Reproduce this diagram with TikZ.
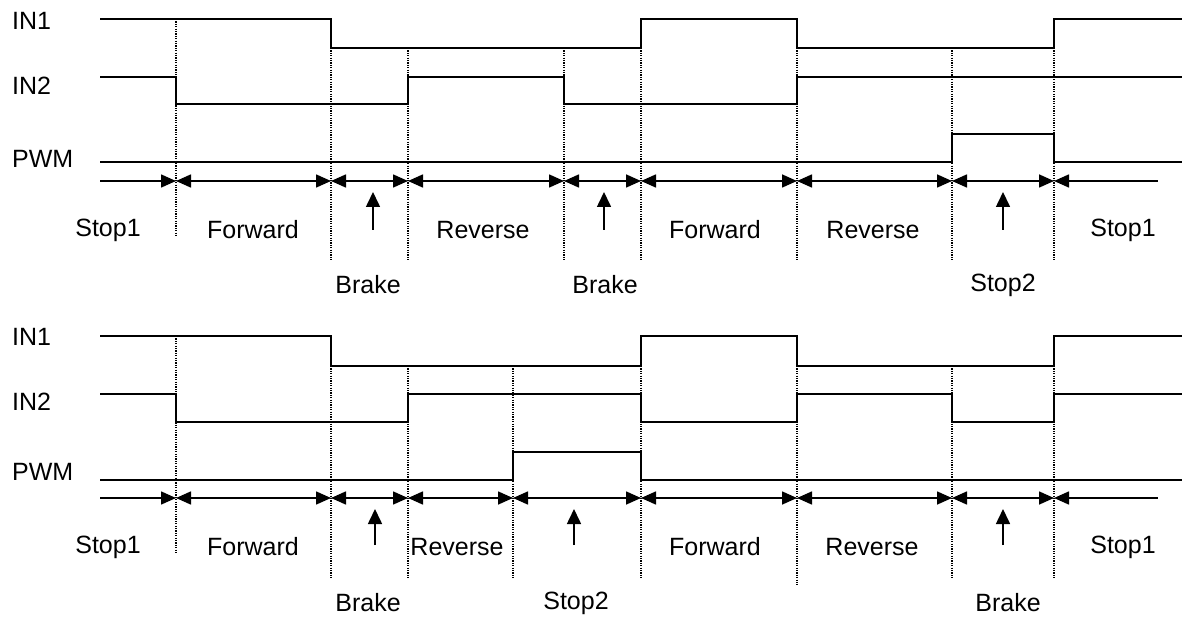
\documentclass[tikz,border=0pt]{standalone}
\usepackage{fontspec}
\setmainfont{Liberation Sans}
\usetikzlibrary{arrows.meta}
\begin{document}
\begin{tikzpicture}[x=1pt,y=-1pt,
  sig/.style={line width=1.9pt, line join=miter},
  gridline/.style={line width=1.3pt, dash pattern=on 1.2pt off 1.2pt},
  tri/.tip={Triangle[length=15pt,width=13pt]},
  span/.style={line width=1.6pt, tri-tri},
  spanR/.style={line width=1.6pt, -tri},
  spanL/.style={line width=1.6pt, tri-},
  up/.style={line width=1.6pt, -{Triangle[length=15pt,width=14pt]}},
  lbl/.style={font=\fontsize{25}{30}\selectfont, inner sep=0pt}]
\useasboundingbox (0,0) rectangle (1182,617);

% ================= TOP PANEL =================
\node[lbl, anchor=west] (t-in1) at (12,21) {IN1};
\node[lbl, anchor=west] (t-in2) at (12,86) {IN2};
\node[lbl, anchor=west] (t-pwm) at (12,159) {PWM};

% dotted guide lines
\draw[gridline] (176,19) -- (176,237);
\foreach \x in {331,408,564,641,797,952,1054}
  \draw[gridline] (\x,48) -- (\x,260);

% signals
\draw[sig] (100,19) -- (331,19) -- (331,48) -- (641,48) -- (641,19) -- (797,19) -- (797,48) -- (1054,48) -- (1054,19) -- (1182,19);
\draw[sig] (100,77) -- (176,77) -- (176,104) -- (408,104) -- (408,77) -- (564,77) -- (564,104) -- (797,104) -- (797,77) -- (1182,77);
\draw[sig] (100,162) -- (952,162) -- (952,134) -- (1054,134) -- (1054,162) -- (1182,162);

% interval arrows
\foreach \x [count=\i] in {100,176,331,408,564,641,797,952,1054,1158}
  \coordinate (ta\i) at (\x,181);
\draw[spanR] (ta1) -- (ta2);
\foreach \i/\j in {2/3,3/4,4/5,5/6,6/7,7/8,8/9}
  \draw[span] (ta\i) -- (ta\j);
\draw[spanL] (ta9) -- (ta10);

% state labels
\node[lbl] (t-s1)  at (108,230) {Stop1};
\node[lbl] (t-f1)  at (253,230) {Forward};
\node[lbl] (t-r1)  at (483,230) {Reverse};
\node[lbl] (t-f2)  at (715,230) {Forward};
\node[lbl] (t-r2)  at (873,230) {Reverse};
\node[lbl] (t-s1b) at (1123,230) {Stop1};
\node[lbl] (t-b1)  at (368,285) {Brake};
\node[lbl] (t-b2)  at (605,285) {Brake};
\node[lbl] (t-s2)  at (1003,285) {Stop2};
\coordinate (tu1a) at (373,230); \coordinate (tu1b) at (373,192);
\coordinate (tu2a) at (604,230); \coordinate (tu2b) at (604,192);
\coordinate (tu3a) at (1003,230); \coordinate (tu3b) at (1003,192);
\draw[up] (tu1a) -- (tu1b);
\draw[up] (tu2a) -- (tu2b);
\draw[up] (tu3a) -- (tu3b);

% ================= BOTTOM PANEL =================
\node[lbl, anchor=west] (b-in1) at (12,337) {IN1};
\node[lbl, anchor=west] (b-in2) at (12,402) {IN2};
\node[lbl, anchor=west] (b-pwm) at (12,472) {PWM};

\draw[gridline] (176,336) -- (176,553);
\foreach \x in {331,408,513,641,952,1054}
  \draw[gridline] (\x,366) -- (\x,578);
\draw[gridline] (797,366) -- (797,585);

\draw[sig] (100,336) -- (331,336) -- (331,366) -- (641,366) -- (641,336) -- (797,336) -- (797,366) -- (1054,366) -- (1054,336) -- (1182,336);
\draw[sig] (100,394) -- (176,394) -- (176,422) -- (408,422) -- (408,394) -- (641,394) -- (641,422) -- (797,422) -- (797,394) -- (952,394) -- (952,422) -- (1054,422) -- (1054,394) -- (1182,394);
\draw[sig] (100,480) -- (513,480) -- (513,452) -- (641,452) -- (641,480) -- (1182,480);

\foreach \x [count=\i] in {100,176,331,408,513,641,797,952,1054,1158}
  \coordinate (ba\i) at (\x,498);
\draw[spanR] (ba1) -- (ba2);
\foreach \i/\j in {2/3,3/4,4/5,5/6,6/7,7/8,8/9}
  \draw[span] (ba\i) -- (ba\j);
\draw[spanL] (ba9) -- (ba10);

\node[lbl] (b-s1)  at (108,547) {Stop1};
\node[lbl] (b-f1)  at (253,547) {Forward};
\node[lbl] (b-r1)  at (457,547) {Reverse};
\node[lbl] (b-f2)  at (715,547) {Forward};
\node[lbl] (b-r2)  at (872,547) {Reverse};
\node[lbl] (b-s1b) at (1123,547) {Stop1};
\node[lbl] (b-b1)  at (368,603) {Brake};
\node[lbl] (b-s2)  at (576,603) {Stop2};
\node[lbl] (b-b2)  at (1008,603) {Brake};
\coordinate (bu1a) at (375,545); \coordinate (bu1b) at (375,509);
\coordinate (bu2a) at (574,545); \coordinate (bu2b) at (574,509);
\coordinate (bu3a) at (1003,545); \coordinate (bu3b) at (1003,509);
\draw[up] (bu1a) -- (bu1b);
\draw[up] (bu2a) -- (bu2b);
\draw[up] (bu3a) -- (bu3b);
\end{tikzpicture}
\end{document}
